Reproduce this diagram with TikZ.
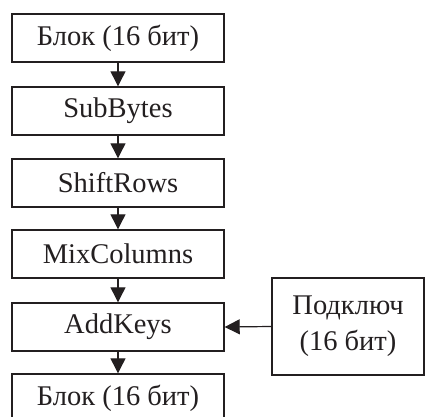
\documentclass[tikz,border=0pt]{standalone}
\usepackage{fontspec}
\setmainfont{Liberation Serif}
\usetikzlibrary{arrows.meta}
\definecolor{ink}{HTML}{231F20}
\begin{document}
\begin{tikzpicture}[x=1pt,y=-1pt,
  blk/.style={draw=ink, line width=1.4pt, minimum width=212pt, minimum height=48pt, inner sep=0pt, text=ink, font=\fontsize{28.5}{34}\selectfont},
  keybox/.style={draw=ink, line width=1.4pt, minimum width=152pt, minimum height=97pt, inner sep=0pt, text=ink, align=center, font=\fontsize{28.5}{36}\selectfont},
  arr/.style={draw=ink, line width=1.2pt, -{Triangle[length=15pt,width=15pt]}}]
\clip (0,0) rectangle (426,417);
\fill[white] (0,0) rectangle (426,417);
\node[blk] (b1) at (118,38) {Блок (16 бит)};
\node[blk] (b2) at (118,111) {SubBytes};
\node[blk] (b3) at (118,183) {ShiftRows};
\node[blk] (b4) at (118,254) {MixColumns};
\node[blk] (b5) at (118,327) {AddKeys};
\node[blk] (b6) at (118,398) {Блок (16 бит)};
\node[keybox] (k) at (348,326.5) {Подключ\\(16 бит)};
\draw[arr] (b1) -- (b2);
\draw[arr] (b2) -- (b3);
\draw[arr] (b3) -- (b4);
\draw[arr] (b4) -- (b5);
\draw[arr] (b5) -- (b6);
\draw[arr] (k.west) -- (b5.east);
\end{tikzpicture}
\end{document}
